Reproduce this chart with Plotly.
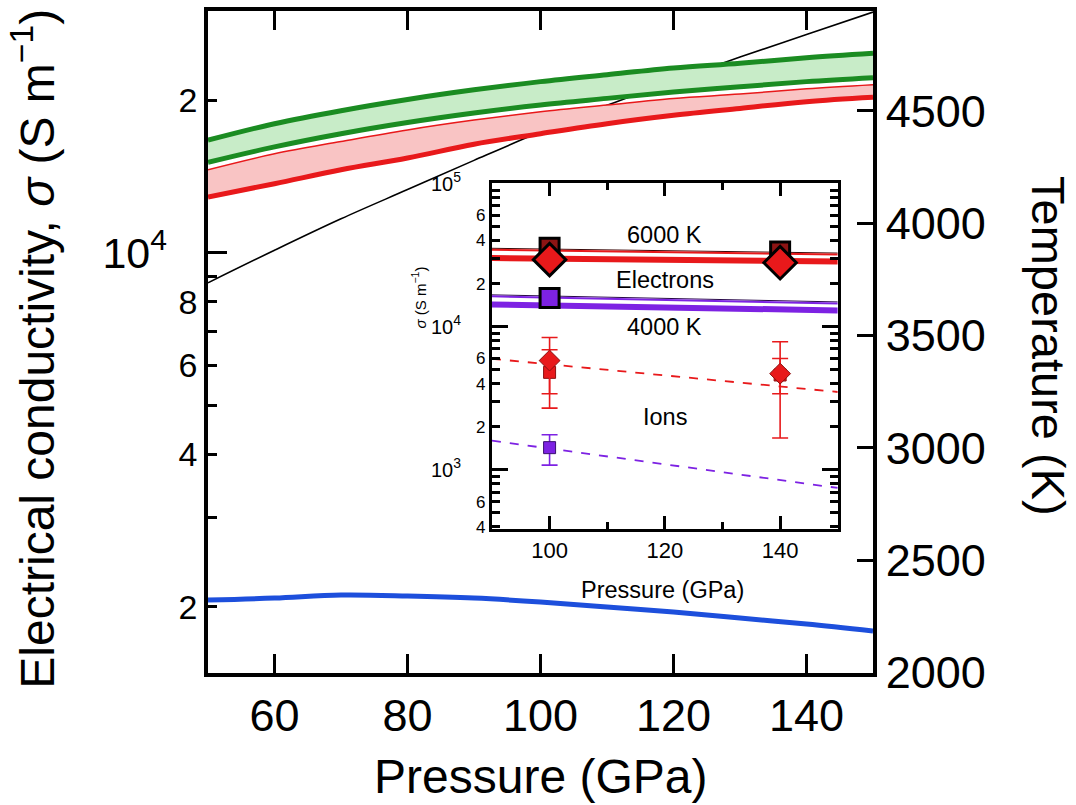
import plotly.graph_objects as go

# ---------------- main panel data ----------------
pressure = [50, 60, 70, 80, 90, 100, 110, 120, 130, 140, 150]
green_upper = [16700, 18000, 19100, 20100, 21000, 21800, 22500, 23200, 23700, 24300, 24800]
green_lower = [15100, 16200, 17200, 18100, 18900, 19600, 20200, 20800, 21300, 21800, 22200]
red_upper = [14600, 15700, 16600, 17500, 18300, 19000, 19600, 20200, 20600, 21100, 21500]
red_lower = [12900, 13700, 14600, 15400, 16400, 17200, 18000, 18700, 19300, 19900, 20300]
blue_sigma = [2061, 2080, 2109, 2100, 2080, 2043, 1997, 1952, 1899, 1848, 1790]
temperature = [3735, 3880, 4020, 4150, 4280, 4407, 4525, 4635, 4740, 4840, 4940]

x_ticks = [60, 80, 100, 120, 140]
t_ticks = [2000, 2500, 3000, 3500, 4000, 4500]
sig_ticks = [2000, 3000, 4000, 5000, 6000, 7000, 8000, 9000, 20000]
sig_ticktext = ["2", "", "4", "", "6", "", "8", "", "2"]

# ---------------- inset data ----------------
inset_p = [90, 150]
e6000_edge = [35300, 32700]
e6000_thin = [34500, 31900]
e6000_thick = [30200, 28600]
e4000_edge = [16700, 14900]
e4000_thin = [16300, 14500]
e4000_thick = [14300, 13000]
ion6000_fit = [5970, 3500]
ion4000_fit = [1600, 748]

pts_p = [100, 140]
e6000_sq = [35600, 33500]
e6000_dia = [29400, 28000]
e4000_sq_p = [100]
e4000_sq = [15900]

ion_sq = [4800, 4600]
ion_sq_hi = [6900, 6000]
ion_sq_lo = [3400, 3400]
ion_dia = [5800, 4700]
ion_dia_hi = [8400, 7850]
ion_dia_lo = [2700, 1670]
ion4000_p = [100]
ion4000_sq = [1430]
ion4000_hi = [1760]
ion4000_lo = [1080]

in_x_ticks = [100, 120, 140]
in_x_minor = [110, 130]
in_y_ticks = [400, 500, 600, 700, 800, 900, 2000, 3000, 4000, 5000, 6000, 7000, 8000, 9000,
              20000, 30000, 40000, 50000, 60000, 70000, 80000, 90000]
in_y_text = ["4", "", "6", "", "", "", "2", "", "4", "", "6", "", "", "",
             "2", "", "4", "", "6", "", "", ""]
in_y_dec = [1000, 10000, 100000]
in_y_dec_text = ["10<sup>3</sup>", "10<sup>4</sup>", "10<sup>5</sup>"]

FONT = "Liberation Sans, Arial, Helvetica, sans-serif"
GREEN = "#1b8c22"
GREEN_FILL = "#c8ecc8"
RED = "#e8191b"
RED_FILL = "#f9c4c4"
BLUE = "#1d4fdc"
PURPLE = "#7d22e3"

fig = go.Figure()

# temperature (black) on right axis, drawn underneath
fig.add_trace(go.Scatter(x=pressure, y=temperature, xaxis="x", yaxis="y", mode="lines",
                         line=dict(color="black", width=1.6, shape="spline")))

# red band
fig.add_trace(go.Scatter(x=pressure, y=red_upper, xaxis="x", yaxis="y2", mode="lines",
                         line=dict(width=0, shape="spline")))
fig.add_trace(go.Scatter(x=pressure, y=red_lower, xaxis="x", yaxis="y2", mode="lines",
                         line=dict(width=0, shape="spline"), fill="tonexty", fillcolor=RED_FILL))
# green band
fig.add_trace(go.Scatter(x=pressure, y=green_lower, xaxis="x", yaxis="y2", mode="lines",
                         line=dict(width=0, shape="spline")))
fig.add_trace(go.Scatter(x=pressure, y=green_upper, xaxis="x", yaxis="y2", mode="lines",
                         line=dict(width=0, shape="spline"), fill="tonexty", fillcolor=GREEN_FILL))
# band edges
fig.add_trace(go.Scatter(x=pressure, y=red_upper, xaxis="x", yaxis="y2", mode="lines",
                         line=dict(color=RED, width=1.5, shape="spline")))
fig.add_trace(go.Scatter(x=pressure, y=red_lower, xaxis="x", yaxis="y2", mode="lines",
                         line=dict(color=RED, width=5, shape="spline")))
fig.add_trace(go.Scatter(x=pressure, y=green_lower, xaxis="x", yaxis="y2", mode="lines",
                         line=dict(color=GREEN, width=5, shape="spline")))
fig.add_trace(go.Scatter(x=pressure, y=green_upper, xaxis="x", yaxis="y2", mode="lines",
                         line=dict(color=GREEN, width=5, shape="spline")))
# blue curve
fig.add_trace(go.Scatter(x=pressure, y=blue_sigma, xaxis="x", yaxis="y2", mode="lines",
                         line=dict(color=BLUE, width=5, shape="spline")))
# placeholder for long-tick overlay axis
fig.add_trace(go.Scatter(x=[None], y=[None], xaxis="x", yaxis="y4", mode="lines"))

# ---------------- inset traces ----------------
def inset_line(y, color, width, dash="solid"):
    fig.add_trace(go.Scatter(x=inset_p, y=y, xaxis="x2", yaxis="y3", mode="lines",
                             line=dict(color=color, width=width, dash=dash)))

inset_line(e6000_edge, "#3a0a0a", 1)
inset_line(e6000_thin, RED, 2)
inset_line(e6000_thick, RED, 6)
inset_line(e4000_edge, "#2a0a4a", 1)
inset_line(e4000_thin, PURPLE, 2)
inset_line(e4000_thick, PURPLE, 6)
inset_line(ion6000_fit, RED, 1.8, "dash")
inset_line(ion4000_fit, PURPLE, 1.8, "dash")

# ion error bars + markers
fig.add_trace(go.Scatter(
    x=pts_p, y=ion_sq, xaxis="x2", yaxis="y3", mode="markers",
    marker=dict(symbol="square", size=12, color=RED, line=dict(color="#8a1010", width=1)),
    error_y=dict(type="data", symmetric=False,
                 array=[h - v for h, v in zip(ion_sq_hi, ion_sq)],
                 arrayminus=[v - l for v, l in zip(ion_sq, ion_sq_lo)],
                 color=RED, thickness=1.6, width=8)))
fig.add_trace(go.Scatter(
    x=pts_p, y=ion_dia, xaxis="x2", yaxis="y3", mode="markers",
    marker=dict(symbol="diamond", size=16, color=RED, line=dict(color="#8a1010", width=1)),
    error_y=dict(type="data", symmetric=False,
                 array=[h - v for h, v in zip(ion_dia_hi, ion_dia)],
                 arrayminus=[v - l for v, l in zip(ion_dia, ion_dia_lo)],
                 color=RED, thickness=1.6, width=8)))
fig.add_trace(go.Scatter(
    x=ion4000_p, y=ion4000_sq, xaxis="x2", yaxis="y3", mode="markers",
    marker=dict(symbol="square", size=12, color=PURPLE, line=dict(color="#3a1070", width=1)),
    error_y=dict(type="data", symmetric=False,
                 array=[h - v for h, v in zip(ion4000_hi, ion4000_sq)],
                 arrayminus=[v - l for v, l in zip(ion4000_sq, ion4000_lo)],
                 color=PURPLE, thickness=1.6, width=8)))

# electron markers
fig.add_trace(go.Scatter(x=pts_p, y=e6000_sq, xaxis="x2", yaxis="y3", mode="markers",
                         marker=dict(symbol="square", size=19, color="#8c1414",
                                     line=dict(color="black", width=3))))
fig.add_trace(go.Scatter(x=pts_p, y=e6000_dia, xaxis="x2", yaxis="y3", mode="markers",
                         marker=dict(symbol="diamond", size=25, color=RED,
                                     line=dict(color="black", width=3))))
fig.add_trace(go.Scatter(x=e4000_sq_p, y=e4000_sq, xaxis="x2", yaxis="y3", mode="markers",
                         marker=dict(symbol="square", size=19, color=PURPLE,
                                     line=dict(color="black", width=3))))
fig.add_trace(go.Scatter(x=[None], y=[None], xaxis="x2", yaxis="y5", mode="lines"))

axis_common = dict(showgrid=False, zeroline=False, linecolor="black", tickcolor="black",
                   automargin=False)

fig.update_layout(
    width=1076, height=805,
    margin=dict(l=208, r=203, t=11, b=132),
    paper_bgcolor="white", plot_bgcolor="white",
    showlegend=False, hovermode=False,
    font=dict(family=FONT, color="black"),
    xaxis=dict(**axis_common, domain=[0, 1], anchor="y", range=[50, 150],
               tickvals=x_ticks, ticks="inside", ticklen=19, tickwidth=3,
               showline=True, linewidth=3.5, mirror="ticks",
               tickfont=dict(size=45)),
    yaxis=dict(**axis_common, anchor="x", side="right", range=[1998, 4945],
               tickvals=t_ticks, ticks="inside", ticklen=16, tickwidth=3,
               showline=True, linewidth=3.5, tickfont=dict(size=45)),
    yaxis2=dict(**axis_common, anchor="x", overlaying="y", side="left", type="log",
                range=[3.170, 4.478], tickvals=sig_ticks, ticktext=sig_ticktext,
                ticks="inside", ticklen=9, tickwidth=3, showline=True, linewidth=3.5,
                tickfont=dict(size=34)),
    yaxis4=dict(**axis_common, anchor="x", overlaying="y", side="left", type="log",
                range=[3.170, 4.478], tickvals=[10000], ticktext=["10<sup>4</sup>"],
                ticks="inside", ticklen=19, tickwidth=3, showline=False,
                tickfont=dict(size=43), ticklabelstandoff=40),
    xaxis2=dict(**axis_common, domain=[0.427, 0.947], anchor="y3", range=[90, 150],
                tickvals=in_x_ticks, ticks="inside", ticklen=13, tickwidth=2.5,
                minor=dict(tickvals=in_x_minor, ticks="inside", ticklen=7, tickwidth=2.5,
                           tickcolor="black"),
                showline=True, linewidth=3, mirror="ticks", tickfont=dict(size=22)),
    yaxis3=dict(**axis_common, domain=[0.2175, 0.740], anchor="x2", type="log",
                range=[2.587, 5.003], tickvals=in_y_ticks, ticktext=in_y_text,
                ticks="inside", ticklen=8, tickwidth=2.5, showline=True, linewidth=3,
                mirror="ticks", tickfont=dict(size=17)),
    yaxis5=dict(**axis_common, domain=[0.2175, 0.740], anchor="x2", overlaying="y3",
                type="log", range=[2.587, 5.003], tickvals=in_y_dec, ticktext=in_y_dec_text,
                ticks="inside", ticklen=16, tickwidth=2.5, showline=False, mirror="ticks",
                tickfont=dict(size=20), ticklabelstandoff=30),
)

fig.add_annotation(text="Electrical conductivity, <i>σ</i> (S m<sup>−1</sup>)",
                   xref="paper", yref="paper", x=-0.263, y=0.49, textangle=-90,
                   showarrow=False, xanchor="center", yanchor="middle",
                   font=dict(family=FONT, size=48, color="black"))
fig.add_annotation(text="Temperature (K)", xref="paper", yref="paper", x=1.263, y=0.494,
                   textangle=90, showarrow=False, xanchor="center", yanchor="middle",
                   font=dict(family=FONT, size=47, color="black"))
fig.add_annotation(text="Pressure (GPa)", xref="paper", yref="paper", x=0.5, y=-0.157,
                   showarrow=False, xanchor="center", yanchor="middle",
                   font=dict(family=FONT, size=48, color="black"))

small = dict(family=FONT, size=23.5, color="black")
fig.add_annotation(text="Pressure (GPa)", xref="paper", yref="paper", x=0.683, y=0.125,
                   showarrow=False, xanchor="center", yanchor="middle", font=small)
fig.add_annotation(text="<i>σ</i> (S m<sup>−1</sup>)", xref="paper", yref="paper",
                   x=0.318, y=0.568, textangle=-90, showarrow=False,
                   xanchor="center", yanchor="middle", font=dict(family=FONT, size=15))
for txt, yy in [("6000 K", 4.643), ("Electrons", 4.329), ("4000 K", 4.0), ("Ions", 3.371)]:
    fig.add_annotation(text=txt, xref="x2", yref="y3", x=120, y=yy, showarrow=False,
                       xanchor="center", yanchor="middle", font=small)

fig.write_html("out.html")
